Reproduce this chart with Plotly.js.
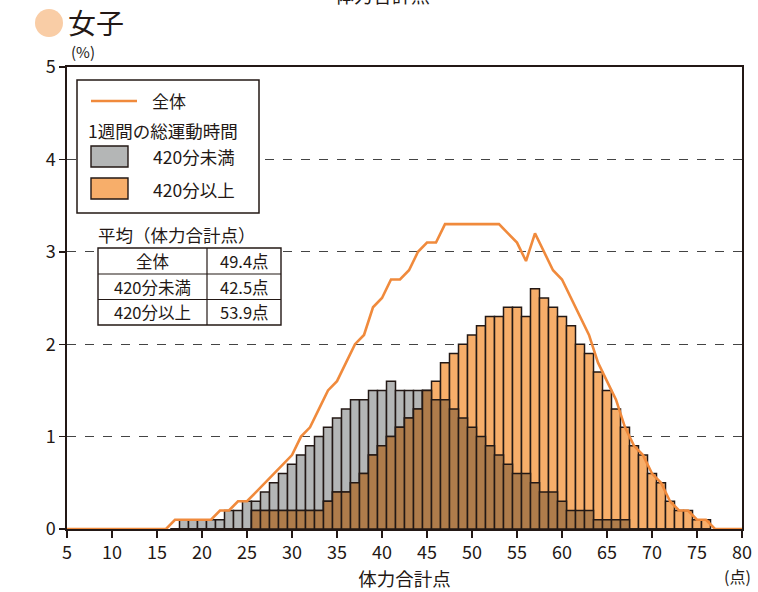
<!DOCTYPE html>
<html><head><meta charset="utf-8">
<script src="https://cdn.plot.ly/plotly-3.0.1.min.js"></script>
<style>html,body{margin:0;padding:0;background:#fff;} #chart{width:758px;height:592px;}</style>
</head><body><div id="chart"></div>
<script>
// ---- data ----
const lineScores = [5,6,7,8,9,10,11,12,13,14,15,16,17,18,19,20,21,22,23,24,25,26,27,28,29,30,31,32,33,34,35,36,37,38,39,40,41,42,43,44,45,46,47,48,49,50,51,52,53,54,55,56,57,58,59,60,61,62,63,64,65,66,67,68,69,70,71,72,73,74,75,76,77,78,79,80];
const totalPct = [0,0,0,0,0,0,0,0,0,0,0,0,0.1,0.1,0.1,0.1,0.1,0.2,0.2,0.3,0.3,0.4,0.5,0.6,0.7,0.8,1.0,1.1,1.3,1.5,1.6,1.8,2.0,2.1,2.4,2.5,2.7,2.7,2.8,3.0,3.1,3.1,3.3,3.3,3.3,3.3,3.3,3.3,3.3,3.2,3.1,2.9,3.2,3.0,2.8,2.7,2.5,2.3,2.1,1.8,1.6,1.4,1.1,0.9,0.8,0.6,0.5,0.3,0.2,0.2,0.1,0.1,0,0,0,0];
const barScores = [17,18,19,20,21,22,23,24,25,26,27,28,29,30,31,32,33,34,35,36,37,38,39,40,41,42,43,44,45,46,47,48,49,50,51,52,53,54,55,56,57,58,59,60,61,62,63,64,65,66,67,68,69,70,71,72,73,74,75,76];
const under420 = [0,0.1,0.1,0.1,0.1,0.1,0.2,0.2,0.3,0.3,0.4,0.5,0.6,0.7,0.8,0.9,1.0,1.1,1.2,1.3,1.4,1.4,1.5,1.5,1.6,1.5,1.5,1.5,1.5,1.4,1.4,1.3,1.2,1.1,1.0,0.9,0.8,0.7,0.6,0.6,0.5,0.4,0.4,0.3,0.2,0.2,0.2,0.1,0.1,0.1,0.1,0,0,0,0,0,0,0,0,0];
const over420 = [0,0,0,0,0,0,0,0,0,0.2,0.2,0.2,0.2,0.2,0.2,0.2,0.2,0.3,0.4,0.4,0.5,0.6,0.8,0.9,1.0,1.1,1.2,1.3,1.5,1.6,1.8,1.9,2.0,2.1,2.2,2.3,2.3,2.4,2.4,2.3,2.6,2.5,2.4,2.3,2.2,2.0,1.9,1.7,1.5,1.3,1.1,0.9,0.8,0.6,0.5,0.3,0.2,0.2,0.1,0.1];
const xTicks = [5,10,15,20,25,30,35,40,45,50,55,60,65,70,75,80];
const yTicks = [0,1,2,3,4,5];
const seriesNames = ['全体','420分未満','420分以上'];
const legendHeading = '1週間の総運動時間';
const tableTitle = '平均（体力合計点）';
const tableMeans = ['49.4点','42.5点','53.9点'];

// ---- styles ----
const INK = '#231815';
const GRAY = '#b4b6b6';
const ORANGE = '#f7ae6a';
const BROWN = '#af7c4b';
const LINE = '#f08a3c';
const FONT = '"Noto Sans CJK JP", "Noto Sans", sans-serif';

const overlap = under420.map((g,i)=>Math.min(g, over420[i]));

const barLine = {color: INK, width: 1.5};
const traces = [
  {type:'bar', x:barScores, y:under420, width:1, marker:{color:GRAY, line:barLine}, name:seriesNames[1], showlegend:false},
  {type:'bar', x:barScores, y:over420, width:1, marker:{color:ORANGE, line:barLine}, name:seriesNames[2], showlegend:false},
  {type:'bar', x:barScores, y:overlap, width:1, marker:{color:BROWN, line:barLine}, showlegend:false},
  {type:'scatter', mode:'lines', x:lineScores, y:totalPct, line:{color:LINE, width:2.6}, name:seriesNames[0], showlegend:false}
];

// pixel -> paper helpers
const PX = p => (p-67)/675;
const PY = p => (529-p)/462;

const shapes = [
  {type:'rect', xref:'paper', yref:'paper', x0:PX(77), x1:PX(259), y0:PY(80), y1:PY(213), fillcolor:'#fff', line:{color:INK, width:1.5}, layer:'above'},
  {type:'line', xref:'paper', yref:'paper', x0:PX(91), x1:PX(137), y0:PY(101), y1:PY(101), line:{color:LINE, width:2.6}, layer:'above'},
  {type:'rect', xref:'paper', yref:'paper', x0:PX(91), x1:PX(128), y0:PY(146), y1:PY(167), fillcolor:GRAY, line:{color:INK, width:1.4}, layer:'above'},
  {type:'rect', xref:'paper', yref:'paper', x0:PX(91), x1:PX(128), y0:PY(178), y1:PY(199), fillcolor:ORANGE, line:{color:INK, width:1.4}, layer:'above'},
  {type:'rect', xref:'paper', yref:'paper', x0:PX(98), x1:PX(281), y0:PY(248), y1:PY(325), fillcolor:'#fff', line:{color:INK, width:1.4}, layer:'above'},
  {type:'line', xref:'paper', yref:'paper', x0:PX(98), x1:PX(281), y0:PY(274), y1:PY(274), line:{color:INK, width:1.2}, layer:'above'},
  {type:'line', xref:'paper', yref:'paper', x0:PX(98), x1:PX(281), y0:PY(299.5), y1:PY(299.5), line:{color:INK, width:1.2}, layer:'above'},
  {type:'line', xref:'paper', yref:'paper', x0:PX(207), x1:PX(207), y0:PY(248), y1:PY(325), line:{color:INK, width:1.2}, layer:'above'},
  {type:'circle', xref:'paper', yref:'paper', x0:PX(35), x1:PX(63), y0:PY(9), y1:PY(37), fillcolor:'#f9cda6', line:{width:0}, layer:'above'}
];

function ann(text, px, py, size, xanchor){
  return {text:text, xref:'paper', yref:'paper', x:PX(px), y:PY(py), xanchor:xanchor||'center', yanchor:'middle', showarrow:false, font:{family:FONT, size:size, color:INK}};
}
const rowY = [261, 287, 312];
const annotations = [
  ann('女子', 66, 22, 28, 'left'),
  ann('体力合計点', 382, -6, 19),
  ann('(%)', 83, 51, 15),
  ann('(点)', 737, 576, 16),
  ann(seriesNames[0], 150, 101, 17, 'left'),
  ann(legendHeading, 86, 130, 17.5, 'left'),
  ann(seriesNames[1], 151, 157, 17.5, 'left'),
  ann(seriesNames[2], 151, 189, 17.5, 'left'),
  ann(tableTitle, 96, 234, 17.5, 'left')
];
seriesNames.forEach((n,i)=>{
  annotations.push(ann(n, 152.5, rowY[i], 16.5));
  annotations.push(ann(tableMeans[i], 244, rowY[i], 16.5));
});

const layout = {
  width:758, height:592,
  margin:{l:67, r:16, t:67, b:63},
  paper_bgcolor:'#fff', plot_bgcolor:'#fff',
  barmode:'overlay', bargap:0,
  font:{family:FONT, color:INK},
  xaxis:{range:[5,80], tickvals:xTicks, ticktext:xTicks.map(String), ticks:'outside', ticklen:7, tickwidth:1.4, tickcolor:INK,
         showline:true, linecolor:INK, linewidth:1.6, mirror:true, showgrid:false, zeroline:false,
         tickfont:{family:FONT, size:18, color:INK}, automargin:false,
         title:{text:'体力合計点', font:{family:FONT, size:18.5, color:INK}, standoff:10}},
  yaxis:{range:[0,5], tickvals:yTicks, ticktext:yTicks.map(String), ticks:'outside', ticklen:6, tickwidth:1.4, tickcolor:INK,
         showline:true, linecolor:INK, linewidth:1.6, mirror:true, showgrid:true, gridcolor:'#444', gridwidth:1.1, griddash:'dash', zeroline:false,
         tickfont:{family:FONT, size:18, color:INK}, automargin:false},
  shapes:shapes,
  annotations:annotations,
  showlegend:false
};

Plotly.newPlot('chart', traces, layout, {staticPlot:true, displayModeBar:false});
</script>
</body></html>
